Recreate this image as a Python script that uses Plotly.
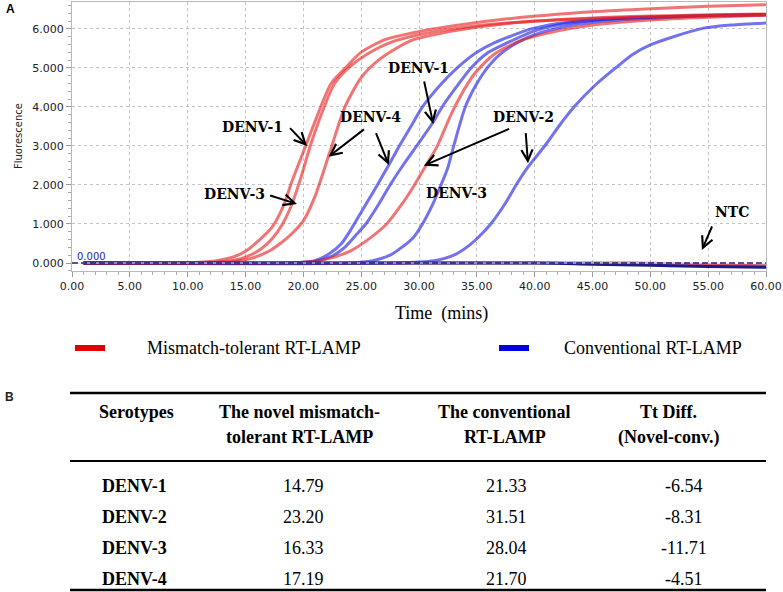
import plotly.graph_objects as go

# ---------------- data ----------------
# Mismatch-tolerant RT-LAMP (red) amplification curves: time (min) / fluorescence
red_d1_t = [1, 8, 11, 12.5, 14, 15, 16.3, 17.3, 18.3, 19.0, 20.2, 21.5, 22.4, 23.8, 24.9, 27, 29.3, 33, 38, 45, 50, 55, 60]
red_d1_f = [0, 0, 20, 60, 160, 300, 620, 920, 1480, 2080, 3000, 4000, 4600, 5050, 5380, 5720, 5890, 6080, 6270, 6440, 6520, 6580, 6620]
red_d3_t = [1, 10, 12.5, 14, 15, 16.3, 17.3, 18.2, 19.0, 19.8, 20.6, 21.8, 22.7, 24.1, 25.5, 27.5, 30, 35, 40, 45, 50, 55, 60]
red_d3_f = [0, 0, 20, 70, 150, 350, 620, 1000, 1500, 2200, 3000, 4000, 4600, 5050, 5350, 5650, 5850, 6080, 6200, 6270, 6310, 6340, 6360]
red_d4_t = [1, 12, 14, 15.5, 17, 18, 19, 20.0, 21.0, 22.3, 23.6, 25.0, 26.5, 29.3, 33, 38, 45, 50, 55, 60]
red_d4_f = [0, 0, 40, 120, 300, 500, 750, 1080, 1700, 2850, 4000, 4750, 5200, 5700, 5950, 6150, 6280, 6330, 6360, 6380]
red_d2_t = [1, 18, 20, 22, 24, 25.5, 27.2, 28.5, 29.5, 30.5, 31.5, 33.0, 34.8, 36.5, 38.8, 42, 45, 50, 55, 60]
red_d2_f = [0, 0, 20, 100, 300, 580, 1000, 1500, 1950, 2450, 2950, 3950, 4850, 5350, 5700, 5950, 6100, 6230, 6300, 6350]

# Conventional RT-LAMP (blue) amplification curves
blue_d4_t = [1, 19, 21, 22.3, 23.3, 24.1, 24.6, 25.5, 26.4, 27.4, 28.3, 29.3, 30.3, 31.8, 33.3, 35, 36.5, 39.7, 43, 47, 52, 56, 60]
blue_d4_f = [0, 0, 60, 250, 500, 850, 1100, 1550, 2000, 2520, 3000, 3500, 4000, 4550, 5000, 5400, 5640, 6000, 6180, 6270, 6320, 6350, 6370]
blue_d1_t = [1, 19, 21, 22.5, 23.5, 24.5, 25.4, 26.5, 27.5, 28.6, 29.8, 31.2, 32.0, 33.2, 34.5, 36, 37.6, 40, 43, 47, 52, 56, 60]
blue_d1_f = [0, 0, 40, 180, 380, 700, 1000, 1500, 2000, 2500, 3000, 3600, 4000, 4500, 5000, 5400, 5640, 5950, 6150, 6260, 6320, 6350, 6370]
blue_d3_t = [1, 24, 26, 27.5, 28.5, 29.5, 30.3, 31.1, 31.9, 32.5, 33.0, 34.0, 35.0, 35.9, 37, 38.5, 40, 43, 47, 52, 56, 60]
blue_d3_f = [0, 0, 60, 200, 400, 650, 1000, 1450, 2000, 2450, 3000, 4000, 4600, 5000, 5350, 5650, 5850, 6080, 6220, 6300, 6340, 6360]
blue_d2_t = [1, 28, 31.3, 33, 34.2, 35.2, 36.2, 37.4, 38.5, 39.4, 41.0, 42.2, 43.4, 45.2, 47.0, 48.5, 50.0, 52, 54.6, 57, 60]
blue_d2_f = [0, 0, 60, 200, 420, 680, 1000, 1500, 2050, 2450, 3050, 3550, 4000, 4550, 5000, 5350, 5590, 5800, 6020, 6100, 6150]

# No-template controls
ntc_blue_t = [1, 40, 45, 50, 55, 60]
ntc_blue_f = [0, 0, -30, -60, -90, -110]
ntc_red_t = [1, 48, 52, 56, 60]
ntc_red_f = [0, 0, -20, -50, -70]

threshold_t = [0, 60]
threshold_f = [0, 0]

x_tick_vals = [0, 5, 10, 15, 20, 25, 30, 35, 40, 45, 50, 55, 60]
x_tick_text = ["0.00", "5.00", "10.00", "15.00", "20.00", "25.00", "30.00",
               "35.00", "40.00", "45.00", "50.00", "55.00", "60.00"]
y_tick_vals = [0, 1000, 2000, 3000, 4000, 5000, 6000]
y_tick_text = ["0.000", "1.000", "2.000", "3.000", "4.000", "5.000", "6.000"]

# Table B
table_header = [["Serotypes", ""],
                ["The novel mismatch-", "tolerant RT-LAMP"],
                ["The conventional", "RT-LAMP"],
                ["Tt Diff.", "(Novel-conv.)"]]
serotypes = ["DENV-1", "DENV-2", "DENV-3", "DENV-4"]
tt_novel = ["14.79", "23.20", "16.33", "17.19"]
tt_conv = ["21.33", "31.51", "28.04", "21.70"]
tt_diff = ["-6.54", "-8.31", "-11.71", "-4.51"]

legend_labels = ["Mismatch-tolerant RT-LAMP", "Conventional RT-LAMP"]

# ---------------- figure ----------------
RED = "rgba(232,30,30,0.62)"
BLUE = "rgba(35,35,232,0.64)"
NAVY = "rgb(28,28,130)"

fig = go.Figure()

for t, f in [(blue_d4_t, blue_d4_f), (blue_d1_t, blue_d1_f), (blue_d3_t, blue_d3_f), (blue_d2_t, blue_d2_f)]:
    fig.add_trace(go.Scatter(x=t, y=f, mode="lines", line=dict(color=BLUE, width=3, shape="spline", smoothing=0.7),
                             showlegend=False, hoverinfo="skip"))
for t, f in [(red_d1_t, red_d1_f), (red_d3_t, red_d3_f), (red_d4_t, red_d4_f), (red_d2_t, red_d2_f)]:
    fig.add_trace(go.Scatter(x=t, y=f, mode="lines", line=dict(color=RED, width=3, shape="spline", smoothing=0.7),
                             showlegend=False, hoverinfo="skip"))

fig.add_trace(go.Scatter(x=ntc_red_t, y=ntc_red_f, mode="lines", line=dict(color="rgba(200,40,80,0.8)", width=3, shape="spline"),
                         showlegend=False, hoverinfo="skip"))
fig.add_trace(go.Scatter(x=ntc_blue_t, y=ntc_blue_f, mode="lines", line=dict(color=NAVY, width=3, shape="spline"),
                         showlegend=False, hoverinfo="skip"))
fig.add_trace(go.Scatter(x=threshold_t, y=threshold_f, mode="lines", line=dict(color="white", width=1),
                         showlegend=False, hoverinfo="skip"))
fig.add_trace(go.Scatter(x=threshold_t, y=threshold_f, mode="lines", line=dict(color=NAVY, width=1.5, dash="6px,3px"),
                         showlegend=False, hoverinfo="skip"))

# ---------------- layout helpers (pixel -> paper) ----------------
PL, PR, PT, PB = 72, 766, 2, 271


def px(x):
    return (x - PL) / (PR - PL)


def py(y):
    return (PB - y) / (PB - PT)


SERIF = "Liberation Serif, Times New Roman, serif"
LABEL_FONT = dict(family="DejaVu Serif, serif", size=14, color="black")

annotations = []
shapes = []


def paper_text(text, x, y, font, xanchor="center", yanchor="middle", **kw):
    d = dict(x=px(x), y=py(y), xref="paper", yref="paper", text=text, showarrow=False,
             xanchor=xanchor, yanchor=yanchor, font=font)
    d.update(kw)
    annotations.append(d)


# chart labels (data coordinates)
chart_labels = [
    ("DENV-1", 15.58, 3490),
    ("DENV-3", 14.03, 1770),
    ("DENV-4", 25.8, 3744),
    ("DENV-1", 29.96, 5000),
    ("DENV-2", 39.05, 3744),
    ("DENV-3", 33.25, 1795),
    ("NTC", 57.06, 1308),
]
for txt, xv, yv in chart_labels:
    annotations.append(dict(x=xv, y=yv, xref="x", yref="y", text="<b>%s</b>" % txt, showarrow=False,
                            font=LABEL_FONT, xanchor="center", yanchor="middle"))

arrows = [
    (20.32, 3000, 18.73, 3495),
    (19.45, 1513, 17.0, 1744),
    (22.19, 2726, 25.37, 3454),
    (27.39, 2513, 26.23, 3367),
    (31.23, 3564, 30.42, 4692),
    (30.42, 2495, 37.92, 3454),
    (39.42, 2556, 39.22, 3367),
    (54.46, 333, 55.39, 974),
]
for x1, y1, x0, y0 in arrows:
    annotations.append(dict(x=x1, y=y1, ax=x0, ay=y0, xref="x", yref="y", axref="x", ayref="y", text="",
                            showarrow=True, arrowhead=5, arrowsize=1.1, arrowwidth=2, arrowcolor="black"))

# threshold value label
annotations.append(dict(x=0.3, y=0, xref="x", yref="y", text="0.000", showarrow=False, xanchor="left",
                        yanchor="bottom", yshift=-1,
                        font=dict(family="DejaVu Sans, sans-serif", size=10, color="rgb(30,40,170)")))

# panel letters and axis titles
paper_text("<b>A</b>", 10, 9, dict(family="Liberation Sans, Arial, sans-serif", size=12, color="black"))
paper_text("<b>B</b>", 9, 397, dict(family="Liberation Sans, Arial, sans-serif", size=12, color="#222"))
paper_text("Fluorescence", 18, 136, dict(family="DejaVu Sans, sans-serif", size=10, color="#222"), textangle=-90)
paper_text("Time\u00a0 (mins)", 441, 313, dict(family=SERIF, size=18, color="black"))

# legend
leg_colors = ["#e00000", "#0000e0"]
leg_bar_x = [75, 499]
leg_text_x = [145, 562]
for lab, col, bx, tx in zip(legend_labels, leg_colors, leg_bar_x, leg_text_x):
    shapes.append(dict(type="line", xref="paper", yref="paper", x0=px(bx), x1=px(bx + 30), y0=py(348), y1=py(348),
                       line=dict(color=col, width=6)))
    paper_text(lab, tx, 348, dict(family=SERIF, size=18, color="black"), xanchor="left")

# table
for ry, w in [(393, 2.5), (461, 2), (590, 2.5)]:
    shapes.append(dict(type="line", xref="paper", yref="paper", x0=px(70), x1=px(766), y0=py(ry), y1=py(ry),
                       line=dict(color="black", width=w)))

head_x = [136, 299, 505, 668]
val_x = [134, 303, 506, 684]
for (l1, l2), hx in zip(table_header, head_x):
    for txt, hy in [(l1, 412), (l2, 437)]:
        if txt:
            paper_text("<b>%s</b>" % txt, hx, hy, dict(family=SERIF, size=18, color="black"))
row_y = [486, 517, 548, 579]
for i, ry in enumerate(row_y):
    cells = [("<b>%s</b>" % serotypes[i]), tt_novel[i], tt_conv[i], tt_diff[i]]
    for c, cx in zip(cells, val_x):
        paper_text(c, cx, ry, dict(family=SERIF, size=18, color="black"))

fig.update_layout(
    width=783, height=592,
    margin=dict(l=PL, r=783 - PR, t=PT, b=592 - PB, autoexpand=False),
    paper_bgcolor="white", plot_bgcolor="white",
    showlegend=False,
    annotations=annotations, shapes=shapes,
    xaxis=dict(range=[0, 60], tickvals=x_tick_vals, ticktext=x_tick_text, showgrid=True, gridcolor="#c4c4c4",
               griddash="dot", gridwidth=1, zeroline=False, showline=True, linecolor="#b8b8b8", linewidth=1,
               mirror=True, ticks="outside", ticklen=5, tickcolor="#999",
               tickfont=dict(family="DejaVu Sans, sans-serif", size=11, color="#222"),
               minor=dict(dtick=1, ticks="outside", ticklen=3, tickcolor="#aaa", showgrid=False)),
    yaxis=dict(range=[-205, 6690], tickvals=y_tick_vals, ticktext=y_tick_text, showgrid=True, gridcolor="#c4c4c4",
               griddash="dot", gridwidth=1, zeroline=False, showline=True, linecolor="#b8b8b8", linewidth=1,
               mirror=True, ticks="outside", ticklen=5, tickcolor="#999",
               tickfont=dict(family="DejaVu Sans, sans-serif", size=11, color="#222"),
               minor=dict(dtick=200, ticks="outside", ticklen=3, tickcolor="#aaa", showgrid=False)),
)

fig.write_html("out.html", config={"displayModeBar": False},
               post_script="document.body.style.margin='0px';document.body.style.overflow='hidden';")
